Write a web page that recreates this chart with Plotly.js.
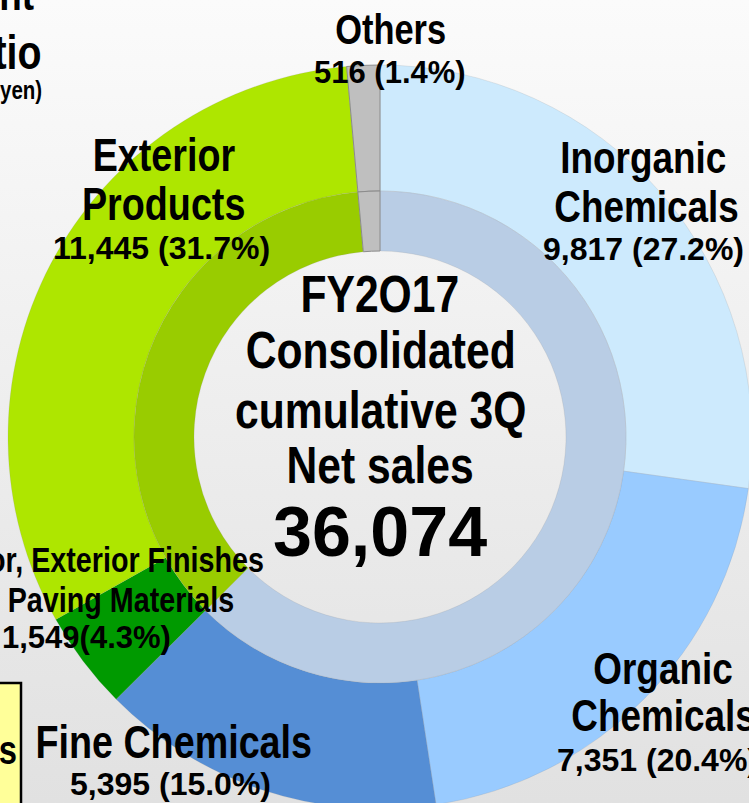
<!DOCTYPE html>
<html>
<head>
<meta charset="utf-8">
<script src="https://cdn.plot.ly/plotly-3.0.1.min.js"></script>
<style>
  html, body { margin:0; padding:0; width:749px; height:803px; overflow:hidden;
    background: linear-gradient(#fbfbfb, #e1e1e1); }
  #chart { position:absolute; left:0; top:0; width:760px; height:813px; }
</style>
</head>
<body>
<div id="chart"></div>
<script>
// ---- data ----
const segments = ['Inorganic Chemicals', 'Organic Chemicals', 'Fine Chemicals',
  'Floor, Exterior Finishes & Paving Materials', 'Exterior Products', 'Others'];
const segmentValues = [9817, 7351, 5395, 1549, 11445, 516];
const segmentShares = ['27.2%', '20.4%', '15.0%', '4.3%', '31.7%', '1.4%'];
const groups = ['Chemicals', 'Housing-related', 'Others'];
const groupValues = [22563, 12994, 516];
const totalSales = '36,074';
const centerLines = ['FY2O17', 'Consolidated', 'cumulative 3Q', 'Net sales'];
const titleLines = ['Sales by Segment', 'Composition Ratio', '(Unit: Millions of yen)'];

// ---- styling ----
const W = 760, H = 813;
const X = px => px / W, Y = py => 1 - py / H;
const FONT = 'Liberation Sans, Arial, sans-serif';
const NARROW = 0.82;
const outerColors = ['#cdeafd', '#99cbff', '#558ed5', '#009a00', '#aee600', '#bfbfbf'];
const innerColors = ['#b9cde5', '#99cc00', '#bfbfbf'];
const softLine = 'rgba(140,140,140,0.35)';
const grayLine = '#8c8c8c';

const cx = 380, cy = 437, rOut = 372, rMid = 246, rHole = 186;

const fmt = v => v.toLocaleString('en-US');

const outer = {
  type: 'pie', values: segmentValues, labels: segments, sort: false, direction: 'clockwise',
  rotation: 0, hole: rMid / rOut, textinfo: 'none', hoverinfo: 'skip', showlegend: false,
  marker: { colors: outerColors,
    line: { color: [softLine, softLine, softLine, softLine, softLine, grayLine],
            width: [0.5, 0.5, 0.5, 0.5, 0.5, 1] } },
  domain: { x: [X(cx - rOut), X(cx + rOut)], y: [Y(cy + rOut), Y(cy - rOut)] }
};
const inner = {
  type: 'pie', values: groupValues, labels: groups, sort: false, direction: 'clockwise',
  rotation: 0, hole: rHole / rMid, textinfo: 'none', hoverinfo: 'skip', showlegend: false,
  marker: { colors: innerColors,
    line: { color: [softLine, softLine, grayLine], width: [0.5, 0.5, 1] } },
  domain: { x: [X(cx - rMid), X(cx + rMid)], y: [Y(cy + rMid), Y(cy - rMid)] }
};

const scales = [];
function ann(text, x, y, size, narrow, anchor) {
  scales.push({ s: narrow ? NARROW : 1, anchor: anchor || 'center' });
  return { text: text, xref: 'paper', yref: 'paper', x: X(x), y: Y(y),
    xanchor: anchor || 'center', yanchor: 'middle', showarrow: false,
    font: { family: FONT, size: size, color: '#000', weight: 'bold' } };
}
const valText = i => fmt(segmentValues[i]) + ' (' + segmentShares[i] + ')';

const annotations = [
  // title fragments (cut off at left)
  ann(titleLines[0], 36, -6, 45, true, 'right'),
  ann(titleLines[1], 44, 52, 48, true, 'right'),
  ann(titleLines[2], 44, 90, 25, true, 'right'),
  // Others
  ann('Others', 390, 30, 42, true),
  ann(valText(5), 390, 72, 31, false),
  // Inorganic
  ann('Inorganic', 643, 157, 45, true),
  ann('Chemicals', 646, 206, 45, true),
  ann(valText(0), 643, 249, 32, false),
  // Exterior products
  ann('Exterior', 164, 155, 46, true),
  ann('Products', 163, 204, 46, true),
  ann(valText(4), 161, 248, 32, false),
  // Floor etc.
  ann('Floor, Exterior Finishes', 266, 559, 35, true, 'right'),
  ann('& Paving Materials', 236, 599, 35, true, 'right'),
  ann(fmt(segmentValues[3]) + '(' + segmentShares[3] + ')', 173, 637, 31, false, 'right'),
  // Fine chemicals
  ann('Fine Chemicals', 173, 742, 46, true),
  ann(valText(2), 170, 784, 32, false),
  // Organic
  ann('Organic', 663, 668, 45, true),
  ann('Chemicals', 663, 715, 45, true),
  ann(valText(1), 657, 760, 32, false),
  // centre
  ann(centerLines[0], 380, 294, 52, true),
  ann(centerLines[1], 380, 350, 52, true),
  ann(centerLines[2], 380, 410, 52, true),
  ann(centerLines[3], 380, 465, 52, true),
  ann(totalSales, 380, 532, 70, false),
  // yellow legend box text
  ann('Chemicals', 19, 750, 40, true, 'right')
];

const shapes = [
  { type: 'rect', xref: 'paper', yref: 'paper', x0: X(-80), x1: X(21), y0: Y(900), y1: Y(683),
    fillcolor: '#ffff99', line: { color: '#000', width: 2.5 }, layer: 'above' }
];

Plotly.newPlot('chart', [outer, inner], {
  width: W, height: H, margin: { l: 0, r: 0, t: 0, b: 0 },
  paper_bgcolor: 'rgba(0,0,0,0)', plot_bgcolor: 'rgba(0,0,0,0)',
  showlegend: false, annotations: annotations, shapes: shapes
}, { displayModeBar: false, staticPlot: true }).then(function () {
  // condense word labels horizontally (the reference uses a narrow gothic face)
  document.querySelectorAll('g.annotation').forEach(function (g) {
    const i = +g.getAttribute('data-index');
    const info = scales[i];
    if (!info || info.s === 1) return;
    const t = g.querySelector('text.annotation-text');
    if (!t) return;
    const bb = t.getBBox();
    const a = info.anchor === 'right' ? bb.x + bb.width : bb.x + bb.width / 2;
    t.setAttribute('transform', 'translate(' + a + ',0) scale(' + info.s + ',1) translate(' + (-a) + ',0)');
  });
});
</script>
</body>
</html>
